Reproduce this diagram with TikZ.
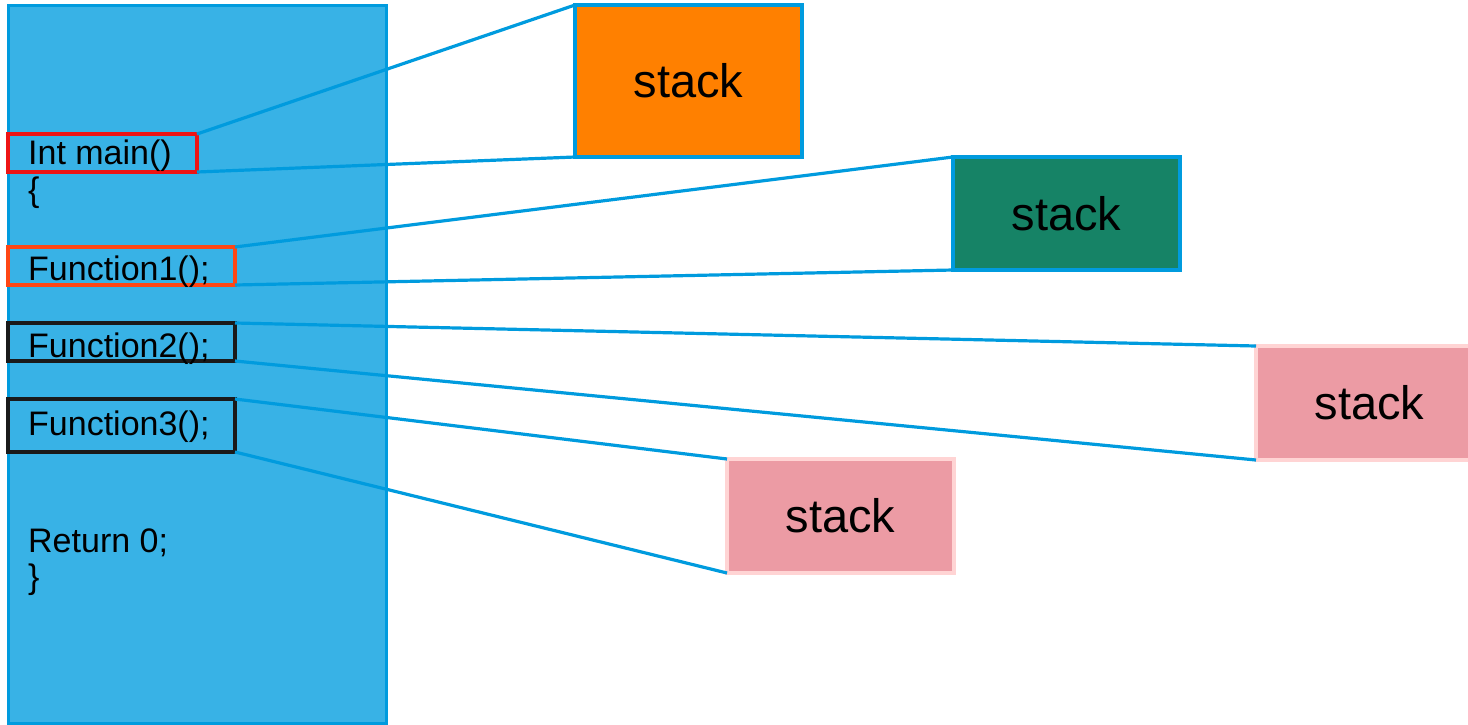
\documentclass[tikz,border=0pt]{standalone}
\usepackage{fontspec}
\setmainfont{Liberation Sans}
\definecolor{codefill}{RGB}{56,178,230}
\definecolor{lineblue}{RGB}{0,155,222}
\definecolor{stackorange}{RGB}{255,128,0}
\definecolor{stackgreen}{RGB}{22,131,102}
\definecolor{stackpink}{RGB}{236,155,164}
\definecolor{pinkedge}{RGB}{255,212,212}
\definecolor{boxred}{RGB}{238,20,20}
\definecolor{boxorange}{RGB}{255,70,20}
\definecolor{boxblack}{RGB}{26,26,26}
\begin{document}
\begin{tikzpicture}[x=1pt,y=-1pt,
  codepanel/.style={draw=lineblue,fill=codefill,line width=3pt,minimum width=378pt,minimum height=718pt,anchor=north west,inner sep=0pt,outer sep=0pt},
  callbox/.style={line width=3.2pt,minimum height=38pt,anchor=north west,inner sep=0pt,outer sep=0pt},
  codetext/.style={anchor=base west,inner sep=0pt,font=\fontsize{34}{40}\selectfont},
  stackbox/.style={line width=3.2pt,minimum width=227pt,minimum height=113pt,anchor=north west,inner sep=0pt,outer sep=0pt,font=\fontsize{47}{56}\selectfont},
  link/.style={draw=lineblue,line width=3.2pt}]
\useasboundingbox (0,0) rectangle (1468,724);
\clip (0,0) rectangle (1468,724);
\node[codepanel] (panel) at (8,5) {};
\node[callbox,draw=boxred,minimum width=189pt] (cmain) at (8,134) {};
\node[callbox,draw=boxorange,minimum width=227pt] (cf1) at (8,247) {};
\node[callbox,draw=boxblack,minimum width=227pt] (cf2) at (8,323) {};
\node[callbox,draw=boxblack,minimum width=227pt,minimum height=53pt] (cf3) at (8,399) {};
\node[codetext] (tmain) at (28,164) {Int main()};
\node[codetext] (topen) at (28,201) {\{};
\node[codetext] (tf1) at (28,280) {Function1();};
\node[codetext] (tf2) at (28,357) {Function2();};
\node[codetext] (tf3) at (28,435) {Function3();};
\node[codetext] (tret) at (28,552) {Return 0;};
\node[codetext] (tclose) at (28,588) {\}};
\node[stackbox,draw=lineblue,fill=stackorange,minimum height=152pt] (s0) at (575,5) {stack};
\node[stackbox,draw=lineblue,fill=stackgreen] (s1) at (953,157) {stack};
\node[stackbox,draw=pinkedge,fill=stackpink,minimum height=114pt] (s2) at (1256,346) {stack};
\node[stackbox,draw=pinkedge,fill=stackpink,minimum height=114pt] (s3) at (727,459) {stack};
\draw[link] (cmain.north east) -- (s0.north west);
\draw[link] (cmain.south east) -- (s0.south west);
\draw[link] (cf1.north east) -- (s1.north west);
\draw[link] (cf1.south east) -- (s1.south west);
\draw[link] (cf2.north east) -- (s2.north west);
\draw[link] (cf2.south east) -- (s2.south west);
\draw[link] (cf3.north east) -- (s3.north west);
\draw[link] (cf3.south east) -- (s3.south west);
\end{tikzpicture}
\end{document}
